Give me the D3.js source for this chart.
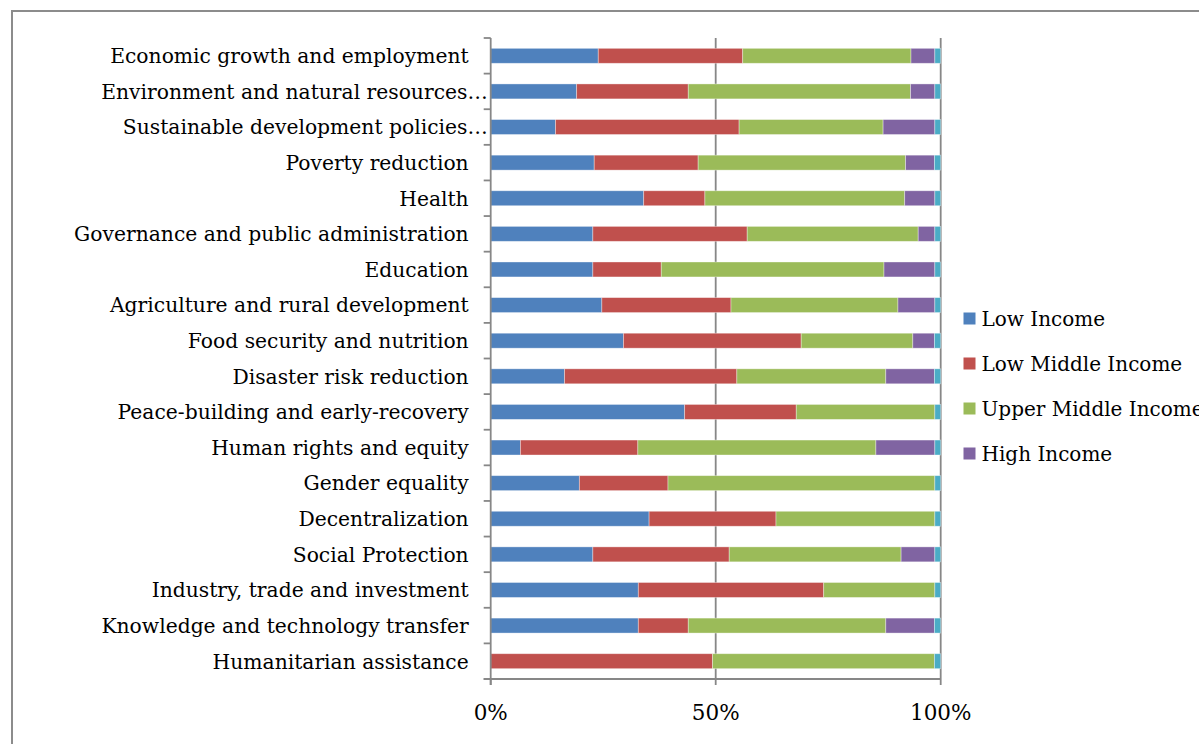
<!DOCTYPE html>
<html>
<head>
<meta charset="utf-8">
<script src="https://cdn.jsdelivr.net/npm/d3@7/dist/d3.min.js"></script>
<style>
  html, body { margin: 0; padding: 0; background: #fff; overflow: hidden; }
  svg { display: block; }
  text { font-family: "DejaVu Serif", serif; fill: #000; }
</style>
</head>
<body>
<svg id="chart" width="1199" height="744"></svg>
<script>
const categories = [
  "Economic growth and employment",
  "Environment and natural resources…",
  "Sustainable development policies…",
  "Poverty reduction",
  "Health",
  "Governance and public administration",
  "Education",
  "Agriculture and rural development",
  "Food security and nutrition",
  "Disaster risk reduction",
  "Peace-building and early-recovery",
  "Human rights and equity",
  "Gender equality",
  "Decentralization",
  "Social Protection",
  "Industry, trade and investment",
  "Knowledge and technology transfer",
  "Humanitarian assistance"
];
const seriesNames = ["Low Income", "Low Middle Income", "Upper Middle Income", "High Income", "Other"];
const legendNames = ["Low Income", "Low Middle Income", "Upper Middle Income", "High Income"];
const lowIncome        = [23.9, 19.1, 14.4, 23.0, 34.0, 22.7, 22.7, 24.7, 29.5, 16.4, 43.1,  6.6, 19.7, 35.2, 22.7, 32.8, 32.8,  0.0];
const lowMiddleIncome  = [32.1, 24.8, 40.8, 23.1, 13.6, 34.3, 15.2, 28.7, 39.5, 38.3, 24.8, 26.1, 19.7, 28.2, 30.3, 41.2, 11.1, 49.3];
const upperMiddleIncome= [37.4, 49.4, 32.0, 46.1, 44.4, 38.0, 49.5, 37.1, 24.8, 33.1, 30.8, 52.9, 59.3, 35.3, 38.2, 24.7, 43.9, 49.3];
const highIncome       = [ 5.3,  5.4, 11.5,  6.4,  6.7,  3.7, 11.3,  8.2,  4.8, 10.8,  0.0, 13.1,  0.0,  0.0,  7.5,  0.0, 10.8,  0.0];
const other            = [ 1.3,  1.3,  1.3,  1.4,  1.3,  1.3,  1.3,  1.3,  1.4,  1.4,  1.3,  1.3,  1.3,  1.3,  1.3,  1.3,  1.4,  1.4];
const tickValues = [0, 50, 100];
const tickLabels = ["0%", "50%", "100%"];
const colors = ["#4F81BD", "#C0504D", "#9BBB59", "#8064A2", "#4BACC6"];

const seriesValues = [lowIncome, lowMiddleIncome, upperMiddleIncome, highIncome, other];
const rows = categories.map((c, i) => {
  const r = { category: c };
  seriesNames.forEach((s, j) => r[s] = seriesValues[j][i]);
  return r;
});

const svg = d3.select("#chart");
const pLeft = 490.7, pRight = 940.7, pTop = 38, pBottom = 679;

// outer chart border
svg.append("rect").attr("x", 12).attr("y", 11).attr("width", 1300).attr("height", 800)
  .attr("fill", "none").attr("stroke", "#8c8c8c").attr("stroke-width", 2);

const x = d3.scaleLinear().domain([0, 100]).range([pLeft, pRight]);
const y = d3.scaleBand().domain(categories).range([pTop, pBottom]).paddingInner(0.58).paddingOuter(0.29);

// gridlines
svg.append("g").selectAll("line").data(tickValues.slice(1)).join("line")
  .attr("x1", d => x(d)).attr("x2", d => x(d)).attr("y1", pTop).attr("y2", pBottom)
  .attr("stroke", "#878787").attr("stroke-width", 1.8);

const stacked = d3.stack().keys(seriesNames)(rows);

svg.append("g").selectAll("g").data(stacked).join("g")
  .attr("fill", (d, i) => colors[i])
  .selectAll("rect").data(d => d.filter(v => v[1] - v[0] > 0)).join("rect")
  .attr("x", d => x(d[0]))
  .attr("width", d => x(d[1]) - x(d[0]))
  .attr("y", d => y(d.data.category))
  .attr("height", y.bandwidth())
  .attr("stroke", "rgba(255,255,255,0.45)")
  .attr("stroke-width", 0.8);

// y axis line and ticks
const ya = svg.append("g");
ya.append("line").attr("x1", pLeft).attr("x2", pLeft).attr("y1", pTop).attr("y2", pBottom + 6)
  .attr("stroke", "#878787").attr("stroke-width", 1.8);
const boundaries = d3.range(categories.length + 1).map(i => pTop + i * (pBottom - pTop) / categories.length);
ya.selectAll("line.tk").data(boundaries).join("line").attr("class", "tk")
  .attr("x1", pLeft - 7).attr("x2", pLeft).attr("y1", d => d).attr("y2", d => d)
  .attr("stroke", "#878787").attr("stroke-width", 1.8);
ya.selectAll("text").data(categories).join("text")
  .attr("x", d => d.endsWith("…") ? pLeft - 3 : pLeft - 22)
  .attr("y", d => y(d) + y.bandwidth() / 2)
  .attr("dy", "0.36em")
  .attr("text-anchor", "end")
  .style("font-size", "20.3px")
  .text(d => d);

// x axis
const xa = svg.append("g");
xa.append("line").attr("x1", pLeft - 7).attr("x2", pRight).attr("y1", pBottom).attr("y2", pBottom)
  .attr("stroke", "#878787").attr("stroke-width", 1.8);
xa.selectAll("line.tk").data(tickValues).join("line").attr("class", "tk")
  .attr("x1", d => x(d)).attr("x2", d => x(d)).attr("y1", pBottom).attr("y2", pBottom + 6)
  .attr("stroke", "#878787").attr("stroke-width", 1.8);
xa.selectAll("text").data(tickValues).join("text")
  .attr("x", d => x(d)).attr("y", 720)
  .attr("text-anchor", "middle")
  .style("font-size", "21.5px")
  .text((d, i) => tickLabels[i]);

// legend
const lg = svg.append("g");
legendNames.forEach((n, i) => {
  const cy = 318.5 + i * 45;
  lg.append("rect").attr("x", 963.5).attr("y", cy - 6).attr("width", 12).attr("height", 12).attr("fill", colors[i]);
  lg.append("text").attr("x", 981.5).attr("y", cy).attr("dy", "0.36em")
    .style("font-size", "20px").text(n);
});
</script>
</body>
</html>
